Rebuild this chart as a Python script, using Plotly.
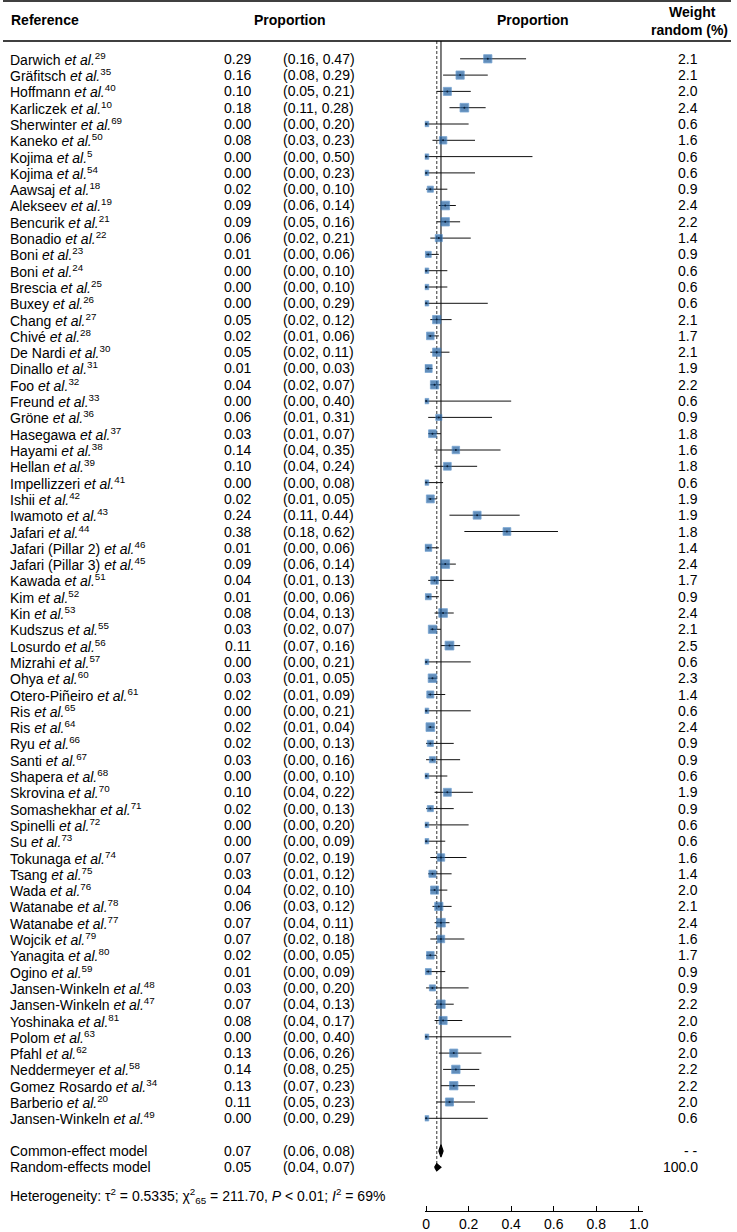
import numpy as np
import plotly.graph_objects as go

# ---------------- data ----------------
authors = [
    "Darwich", "Gräfitsch", "Hoffmann", "Karliczek", "Sherwinter", "Kaneko", "Kojima", "Kojima",
    "Aawsaj", "Alekseev", "Bencurik", "Bonadio", "Boni", "Boni", "Brescia", "Buxey", "Chang",
    "Chivé", "De Nardi", "Dinallo", "Foo", "Freund", "Gröne", "Hasegawa", "Hayami", "Hellan",
    "Impellizzeri", "Ishii", "Iwamoto", "Jafari", "Jafari (Pillar 2)", "Jafari (Pillar 3)",
    "Kawada", "Kim", "Kin", "Kudszus", "Losurdo", "Mizrahi", "Ohya", "Otero-Piñeiro", "Ris",
    "Ris", "Ryu", "Santi", "Shapera", "Skrovina", "Somashekhar", "Spinelli", "Su", "Tokunaga",
    "Tsang", "Wada", "Watanabe", "Watanabe", "Wojcik", "Yanagita", "Ogino", "Jansen-Winkeln",
    "Jansen-Winkeln", "Yoshinaka", "Polom", "Pfahl", "Neddermeyer", "Gomez Rosardo", "Barberio",
    "Jansen-Winkeln",
]
refs = [
    "29", "35", "40", "10", "69", "50", "5", "54", "18", "19", "21", "22", "23", "24", "25", "26",
    "27", "28", "30", "31", "32", "33", "36", "37", "38", "39", "41", "42", "43", "44", "46", "45",
    "51", "52", "53", "55", "56", "57", "60", "61", "65", "64", "66", "67", "68", "70", "71", "72",
    "73", "74", "75", "76", "78", "77", "79", "80", "59", "48", "47", "81", "63", "62", "58", "34",
    "20", "49",
]
prop = [
    0.29, 0.16, 0.10, 0.18, 0.00, 0.08, 0.00, 0.00, 0.02, 0.09, 0.09, 0.06, 0.01, 0.00, 0.00, 0.00,
    0.05, 0.02, 0.05, 0.01, 0.04, 0.00, 0.06, 0.03, 0.14, 0.10, 0.00, 0.02, 0.24, 0.38, 0.01, 0.09,
    0.04, 0.01, 0.08, 0.03, 0.11, 0.00, 0.03, 0.02, 0.00, 0.02, 0.02, 0.03, 0.00, 0.10, 0.02, 0.00,
    0.00, 0.07, 0.03, 0.04, 0.06, 0.07, 0.07, 0.02, 0.01, 0.03, 0.07, 0.08, 0.00, 0.13, 0.14, 0.13,
    0.11, 0.00,
]
lower = [
    0.16, 0.08, 0.05, 0.11, 0.00, 0.03, 0.00, 0.00, 0.00, 0.06, 0.05, 0.02, 0.00, 0.00, 0.00, 0.00,
    0.02, 0.01, 0.02, 0.00, 0.02, 0.00, 0.01, 0.01, 0.04, 0.04, 0.00, 0.01, 0.11, 0.18, 0.00, 0.06,
    0.01, 0.00, 0.04, 0.02, 0.07, 0.00, 0.01, 0.01, 0.00, 0.01, 0.00, 0.00, 0.00, 0.04, 0.00, 0.00,
    0.00, 0.02, 0.01, 0.02, 0.03, 0.04, 0.02, 0.00, 0.00, 0.00, 0.04, 0.04, 0.00, 0.06, 0.08, 0.07,
    0.05, 0.00,
]
upper = [
    0.47, 0.29, 0.21, 0.28, 0.20, 0.23, 0.50, 0.23, 0.10, 0.14, 0.16, 0.21, 0.06, 0.10, 0.10, 0.29,
    0.12, 0.06, 0.11, 0.03, 0.07, 0.40, 0.31, 0.07, 0.35, 0.24, 0.08, 0.05, 0.44, 0.62, 0.06, 0.14,
    0.13, 0.06, 0.13, 0.07, 0.16, 0.21, 0.05, 0.09, 0.21, 0.04, 0.13, 0.16, 0.10, 0.22, 0.13, 0.20,
    0.09, 0.19, 0.12, 0.10, 0.12, 0.11, 0.18, 0.05, 0.09, 0.20, 0.13, 0.17, 0.40, 0.26, 0.25, 0.23,
    0.23, 0.29,
]
weights = [
    2.1, 2.1, 2.0, 2.4, 0.6, 1.6, 0.6, 0.6, 0.9, 2.4, 2.2, 1.4, 0.9, 0.6, 0.6, 0.6, 2.1, 1.7, 2.1,
    1.9, 2.2, 0.6, 0.9, 1.8, 1.6, 1.8, 0.6, 1.9, 1.9, 1.8, 1.4, 2.4, 1.7, 0.9, 2.4, 2.1, 2.5, 0.6,
    2.3, 1.4, 0.6, 2.4, 0.9, 0.9, 0.6, 1.9, 0.9, 0.6, 0.6, 1.6, 1.4, 2.0, 2.1, 2.4, 1.6, 1.7, 0.9,
    0.9, 2.2, 2.0, 0.6, 2.0, 2.2, 2.2, 2.0, 0.6,
]

summary_labels = ["Common-effect model", "Random-effects model"]
summary_est = [0.07, 0.05]
summary_lo = [0.06, 0.04]
summary_hi = [0.08, 0.07]
summary_weight = ["- -", "100.0"]

tick_vals = [0, 0.2, 0.4, 0.6, 0.8, 1.0]
tick_text = ["0", "0.2", "0.4", "0.6", "0.8", "1.0"]

heterogeneity = ("Heterogeneity: τ<sup>2</sup> = 0.5335; χ<sup>2</sup><sub>65</sub> = 211.70, "
                 "<i>P</i> < 0.01; <i>I</i><sup>2</sup> = 69%")

# ---------------- layout constants ----------------
W, H = 737, 1232
FONT = "Liberation Sans, Arial, Helvetica, sans-serif"
FS = 14
BLUE = "#1F5E9E"

n = len(authors)
rows = np.arange(n)
sum_rows = [n + 1, n + 2]

ROW0_PX, ROW_PX = 58.8, 16.3
def px_to_row(p):
    return (p - ROW0_PX) / ROW_PX

top_px, bottom_px = 41, 1211
y_range = [px_to_row(bottom_px), px_to_row(top_px)]

x0_px, x1_px = 428.3, 643.7
ppu = x1_px - x0_px
xr = [-0.006, 1.02]
xdom = [(x0_px + xr[0] * ppu) / W, (x0_px + xr[1] * ppu) / W]

def px(x):
    return x / W

def py(y):
    return 1 - y / H

fig = go.Figure()

# CI lines
cx, cy = [], []
for r, lo, hi in zip(rows, lower, upper):
    cx += [lo, hi, None]
    cy += [r, r, None]
fig.add_trace(go.Scatter(x=cx, y=cy, mode="lines", line=dict(color="#111111", width=1),
                         hoverinfo="skip", showlegend=False))

# squares
sizes = [2 + 4.3 * np.sqrt(w) for w in weights]
fig.add_trace(go.Scatter(x=prop, y=rows, mode="markers",
                         marker=dict(symbol="square", size=sizes, color=BLUE,
                                     line=dict(width=0.8, color="#3f7fc0")),
                         showlegend=False))
fig.add_trace(go.Scatter(x=prop, y=rows, mode="markers",
                         marker=dict(symbol="circle", size=2, color="#0b1e36", line=dict(width=0)),
                         showlegend=False))

# diamonds
half_h = [0.38, 0.22]
for r, est, lo, hi, hh in zip(sum_rows, summary_est, summary_lo, summary_hi, half_h):
    fig.add_trace(go.Scatter(x=[lo, est, hi, est, lo], y=[r, r - hh, r, r + hh, r],
                             mode="lines", fill="toself", fillcolor="black",
                             line=dict(color="black", width=1.2), showlegend=False))

# reference lines (common solid, random dashed)
fig.add_shape(type="line", xref="x", yref="y", x0=summary_est[0], x1=summary_est[0],
              y0=px_to_row(top_px), y1=sum_rows[0], line=dict(color="#6e6e6e", width=1.8),
              layer="below")
fig.add_shape(type="line", xref="x", yref="y", x0=summary_est[1], x1=summary_est[1],
              y0=px_to_row(top_px), y1=sum_rows[1], line=dict(color="#6e6e6e", width=1.4, dash="3px,2px"),
              layer="below")

# horizontal rules
for yy in [1, top_px]:
    fig.add_shape(type="line", xref="paper", yref="paper", x0=0, x1=1, y0=py(yy), y1=py(yy),
                  line=dict(color="black", width=1.5))

ann = []
def text(x, y, s, anchor="left", yref="y", bold=False, size=FS):
    if bold:
        s = "<b>" + s + "</b>"
    ann.append(dict(x=x, y=y, xref="paper", yref=yref, text=s, showarrow=False,
                    xanchor=anchor, yanchor="middle", borderpad=0,
                    font=dict(family=FONT, size=size, color="black")))

# headers
text(px(7), py(20), "Reference", yref="paper", bold=True)
text(px(291), py(20), "Proportion", anchor="center", yref="paper", bold=True)
text(px(537), py(20), "Proportion", anchor="center", yref="paper", bold=True)
text(px(698), py(12), "Weight", anchor="center", yref="paper", bold=True)
text(px(695), py(30), "random (%)", anchor="center", yref="paper", bold=True)

# study rows
for r, a, rf, p, lo, hi, w in zip(rows, authors, refs, prop, lower, upper, weights):
    text(px(6), r, f"{a} <i>et al.</i><sup>{rf}</sup>")
    text(px(252), r, f"{p:.2f}", anchor="right")
    text(px(282), r, f"({lo:.2f}, {hi:.2f})")
    text(px(705), r, f"{w:.1f}", anchor="right")

# summary rows
for r, lab, est, lo, hi, wt in zip(sum_rows, summary_labels, summary_est, summary_lo, summary_hi, summary_weight):
    text(px(6), r, lab)
    text(px(252), r, f"{est:.2f}", anchor="right")
    text(px(282), r, f"({lo:.2f}, {hi:.2f})")
    text(px(705), r, wt, anchor="right")

text(px(6), px_to_row(1196), heterogeneity)

fig.update_layout(
    width=W, height=H, margin=dict(l=0, r=0, t=0, b=0),
    paper_bgcolor="white", plot_bgcolor="white",
    annotations=ann, showlegend=False, hovermode=False,
    xaxis=dict(domain=xdom, range=xr, tickvals=tick_vals, ticktext=tick_text,
               showline=True, linecolor="black", linewidth=1, ticks="inside", ticklen=5,
               tickwidth=1, tickcolor="black", showgrid=False, zeroline=False,
               tickfont=dict(family=FONT, size=FS, color="black")),
    yaxis=dict(domain=[1 - bottom_px / H, 1 - top_px / H], range=y_range, visible=False),
)

fig.write_html("out.html", config={"displayModeBar": False},
               post_script="document.body.style.margin='0px';")
